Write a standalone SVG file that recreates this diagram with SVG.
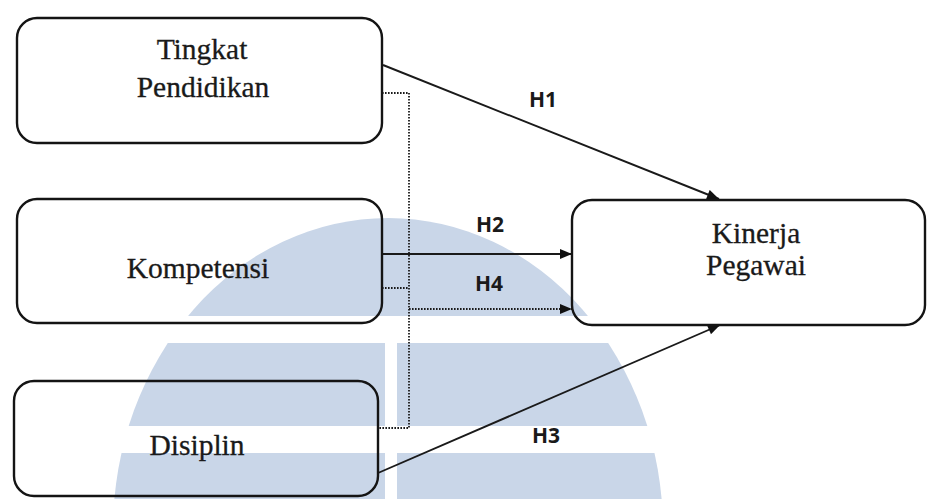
<svg xmlns="http://www.w3.org/2000/svg" width="928" height="499" viewBox="0 0 928 499">
<style>
.box{fill:none;stroke:#141414;stroke-width:2.4}
.lbl{font-family:"Liberation Serif","Times New Roman",serif;font-size:29.5px;fill:#1a1a1a;text-anchor:middle;stroke:#1a1a1a;stroke-width:0.3}
.h{font-family:"Open Sans","Liberation Sans",sans-serif;font-weight:700;font-size:21px;fill:#1a1a1a}
.ln{fill:none;stroke:#1a1a1a;stroke-width:1.9}
.dot{fill:none;stroke:#1a1a1a;stroke-width:1.8;stroke-dasharray:1.6 1.4}
.wm{fill:#c9d6e8}
</style>
<defs>
<marker id="arr" viewBox="0 0 12 10" refX="12" refY="5" markerWidth="13" markerHeight="10" markerUnits="userSpaceOnUse" orient="auto">
<path d="M0,0 L12,5 L0,10 Z" fill="#111"/>
</marker>
<clipPath id="wmclip">
<path d="M0,0 H928 V316 H0 Z M0,343 H385 V426 H0 Z M397,343 H928 V426 H397 Z M0,453 H385 V499 H0 Z M397,453 H928 V499 H397 Z"/>
</clipPath>
</defs>
<rect width="928" height="499" fill="#fff"/>
<g id="watermark" clip-path="url(#wmclip)">
<ellipse class="wm" cx="388" cy="530" rx="275" ry="312"/>
</g>
<g id="connectors">
<line class="ln" x1="383" y1="65" x2="719" y2="199" marker-end="url(#arr)"/>
<line class="ln" x1="382" y1="254" x2="572" y2="254" marker-end="url(#arr)"/>
<path class="dot" d="M382,93 H409 V428 H379"/>
<path class="dot" d="M382,288 H409"/>
<line class="dot" x1="409" y1="309" x2="572" y2="309" marker-end="url(#arr)"/>
<line class="ln" x1="378" y1="473" x2="720" y2="325" marker-end="url(#arr)"/>
<text class="h" x="529" y="107">H1</text>
<text class="h" x="476" y="232">H2</text>
<text class="h" x="475" y="291">H4</text>
<text class="h" x="532" y="443">H3</text>
</g>
<g id="node-tingkat">
<rect class="box" x="17" y="18" width="365" height="125" rx="20"/>
<text class="lbl" x="202" y="59">Tingkat</text>
<text class="lbl" x="203" y="97">Pendidikan</text>
</g>
<g id="node-kompetensi">
<rect class="box" x="17" y="199" width="365" height="124" rx="20"/>
<text class="lbl" x="198" y="278">Kompetensi</text>
</g>
<g id="node-disiplin">
<rect class="box" x="14" y="381" width="364" height="115" rx="20"/>
<text class="lbl" x="197" y="455">Disiplin</text>
</g>
<g id="node-kinerja">
<rect class="box" x="572" y="200" width="353" height="125" rx="20"/>
<text class="lbl" x="756" y="243">Kinerja</text>
<text class="lbl" x="756" y="275">Pegawai</text>
</g>
</svg>
